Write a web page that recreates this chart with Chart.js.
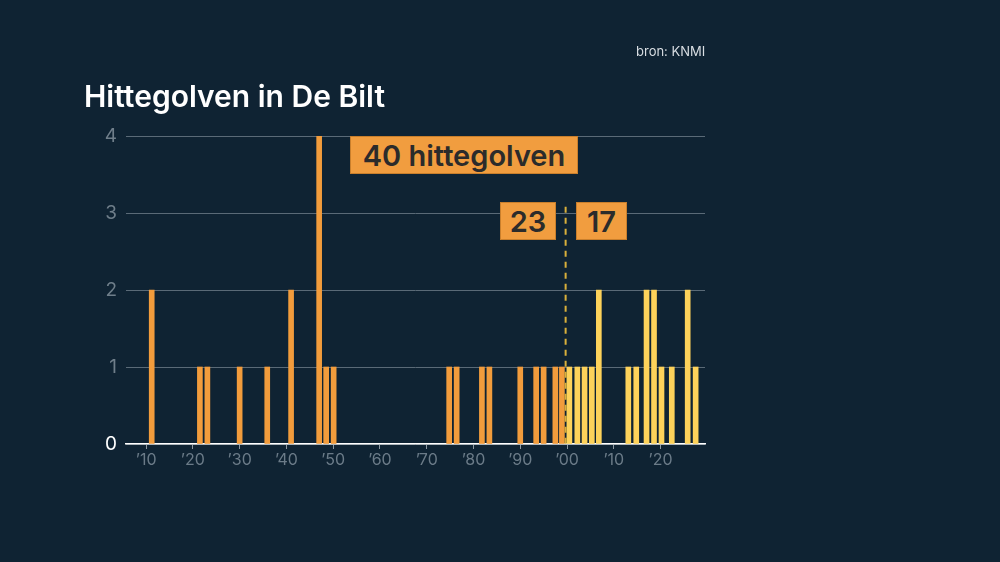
<!DOCTYPE html>
<html>
<head>
<meta charset="utf-8">
<script src="https://cdn.jsdelivr.net/npm/chart.js@4"></script>
<style>
  html, body { margin: 0; padding: 0; background: #0f2333; }
  #wrap { position: relative; width: 1000px; height: 562px; overflow: hidden; }
  canvas { position: absolute; left: 0; top: 0; }
  .title { position: absolute; left: 84px; top: 78px; color: #fff; font: 600 30px Inter, sans-serif; letter-spacing: 0; }
  .bron { position: absolute; left: 636px; top: 43px; color: #d8dde2; font: 400 13px Inter, sans-serif; }
  .box { position: absolute; background: #f19d3f; border: 1px solid #c97f2c; color: #2b2b2b;
         font: 600 29px Inter, sans-serif; text-align: center; box-sizing: border-box; }
</style>
</head>
<body>
<div id="wrap">
  <canvas id="c" width="1000" height="562"></canvas>
  <div class="title">Hittegolven in De Bilt</div>
  <div class="bron">bron: KNMI</div>
  <div class="box" style="left:350px;top:136px;width:228px;height:38px;line-height:37px;">40 hittegolven</div>
  <div class="box" style="left:500px;top:202px;width:56px;height:38px;line-height:37px;">23</div>
  <div class="box" style="left:576px;top:202px;width:51px;height:38px;line-height:37px;">17</div>
</div>
<script>
// jaren (positie op de as) en aantal hittegolven
const yearsBefore = [1911.2, 1921.5, 1923.1, 1930.0, 1935.9, 1941.0, 1947.0, 1948.5, 1950.1,
                     1974.8, 1976.4, 1981.8, 1983.4, 1990.0, 1993.4, 1995.0, 1997.5, 1998.9];
const countsBefore = [2, 1, 1, 1, 1, 2, 4, 1, 1,
                      1, 1, 1, 1, 1, 1, 1, 1, 1];
const yearsAfter = [2000.5, 2002.2, 2003.75, 2005.3, 2006.8, 2013.1, 2014.8, 2017.0, 2018.6,
                    2020.2, 2022.4, 2025.8, 2027.5];
const countsAfter = [1, 1, 1, 1, 2, 1, 1, 2, 2, 1, 1, 2, 1];
const decadeTicks = [1910, 1920, 1930, 1940, 1950, 1960, 1970, 1980, 1990, 2000, 2010, 2020];
const dividerYear = 1999.7;

const toPoints = (xs, ys) => xs.map((x, i) => ({ x: x, y: ys[i] }));

// stippellijn bij 2000
const dividerPlugin = {
  id: 'divider',
  afterDatasetsDraw(chart) {
    const x = chart.scales.x.getPixelForValue(dividerYear);
    const y0 = chart.scales.y.getPixelForValue(0);
    const y1 = chart.scales.y.getPixelForValue(3.08);
    const c = chart.ctx;
    c.save();
    c.strokeStyle = '#d9b03b';
    c.lineWidth = 2;
    c.setLineDash([6, 5]);
    c.beginPath();
    c.moveTo(x, y1);
    c.lineTo(x, y0);
    c.stroke();
    c.restore();
  }
};

const ctx = document.getElementById('c').getContext('2d');
new Chart(ctx, {
  type: 'bar',
  data: {
    datasets: [{
      data: toPoints(yearsBefore, countsBefore),
      backgroundColor: '#f29c3c',
      barThickness: 5
    }, {
      data: toPoints(yearsAfter, countsAfter),
      backgroundColor: '#fdd25a',
      barThickness: 5
    }]
  },
  options: {
    responsive: false,
    animation: false,
    grouped: false,
    layout: { padding: { left: 0, right: 295, top: 136, bottom: 0 } },
    plugins: { legend: { display: false }, tooltip: { enabled: false } },
    scales: {
      x: {
        type: 'linear',
        offset: false,
        min: 1905.7,
        max: 2029.5,
        afterBuildTicks(scale) { scale.ticks = decadeTicks.map(v => ({ value: v })); },
        afterFit(scale) { scale.height = 562 - 444; },
        grid: { display: true, offset: false, drawOnChartArea: false, drawTicks: true, tickLength: 5, color: '#8e9aa4', lineWidth: 1 },
        border: { display: true, color: '#ffffff', width: 1.5 },
        ticks: {
          color: '#6b7b88',
          font: { family: 'Inter', size: 16 },
          padding: 2,
          maxRotation: 0,
          callback: v => '\u2019' + String(v).slice(2)
        }
      },
      y: {
        min: 0,
        max: 4,
        afterFit(scale) { scale.width = 126; },
        grid: { color: '#5a6a77', lineWidth: 1, drawTicks: false },
        border: { display: false },
        ticks: {
          stepSize: 1,
          padding: 9,
          color: ctx => ctx.tick.value === 0 ? '#ffffff' : '#6f7e8a',
          font: { family: 'Inter', size: 19 }
        }
      }
    }
  },
  plugins: [dividerPlugin]
});
</script>
</body>
</html>
